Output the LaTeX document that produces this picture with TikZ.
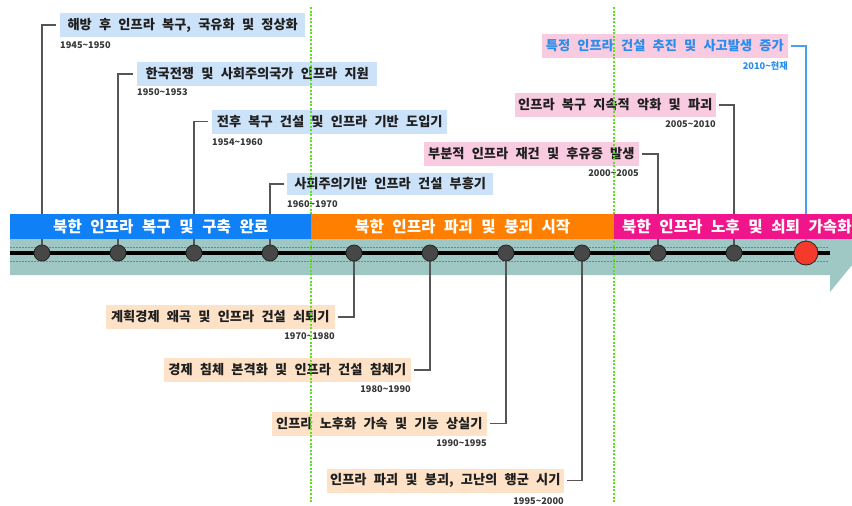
\documentclass[tikz,border=0pt]{standalone}
\usepackage{fontspec}
\newfontfamily\kr[WordSpace=2.4]{Noto Sans CJK KR}
\definecolor{tealband}{HTML}{9FC8C5}
\definecolor{lblue}{HTML}{CCE2F8}
\definecolor{lpink}{HTML}{F9CBE0}
\definecolor{lpeach}{HTML}{FDE2C8}
\definecolor{bblue}{HTML}{0F80F5}
\definecolor{borange}{HTML}{FF8000}
\definecolor{bpink}{HTML}{F0158A}
\definecolor{leadgrey}{HTML}{555555}
\definecolor{leadblue}{HTML}{4AA0F0}
\definecolor{txtblue}{HTML}{2A8CEB}
\definecolor{greendot}{HTML}{5EE01E}
\definecolor{dotfill}{HTML}{474747}
\definecolor{redfill}{HTML}{F43A2A}
\begin{document}
\begin{tikzpicture}[x=1pt,y=-1pt,
  lab/.style={minimum height=24pt, inner sep=0pt, text=black!88,
    font=\kr\bfseries\fontsize{13.2}{15}\selectfont},
  yr/.style={inner sep=0pt, text=black!78, font=\kr\bfseries\fontsize{9.2}{10}\selectfont},
  lead/.style={draw=leadgrey, line width=1.4pt},
  leadb/.style={draw=leadblue, line width=1.2pt},
  band/.style={minimum height=25pt, inner sep=0pt, text=white,
    font=\kr\bfseries\fontsize{15.6}{17}\selectfont},
  dotnode/.style={circle, fill=dotfill, draw=black!85, line width=0.8pt, minimum size=16pt, inner sep=0pt},
  dashln/.style={draw=black!50, line width=1pt, dash pattern=on 2pt off 1pt},
  greenln/.style={draw=greendot, line width=2.2pt, dash pattern=on 2pt off 1.6pt}
]
\useasboundingbox (0,0) rectangle (852,506);
\clip (0,0) rectangle (852,506);
\fill[white] (0,0) rectangle (852,506);

% arrow body
\fill[tealband] (10,214) -- (852,214) -- (852,265) -- (830,292) -- (830,275) -- (10,275) -- cycle;
\draw[dashln] (10,247) -- (828,247);
\draw[dashln] (10,261) -- (828,261);

% milestone positions
\coordinate (p1) at (42,253);
\coordinate (p2) at (118,253);
\coordinate (p3) at (194,253);
\coordinate (p4) at (270,253);
\coordinate (p5) at (354,253);
\coordinate (p6) at (430,253);
\coordinate (p7) at (506,253);
\coordinate (p8) at (582,253);
\coordinate (p9) at (658,253);
\coordinate (p10) at (734,253);
\coordinate (p11) at (806,253);

% labels top-left (blue)
\node[lab, fill=lblue, anchor=west, minimum width=245pt] (l1) at (60,25) {해방 후 인프라 복구, 국유화 및 정상화};
\node[lab, fill=lblue, anchor=west, minimum width=240pt] (l2) at (137,74) {한국전쟁 및 사회주의국가 인프라 지원};
\node[lab, fill=lblue, anchor=west, minimum width=235pt] (l3) at (212,121.5) {전후 복구 건설 및 인프라 기반 도입기};
\node[lab, fill=lblue, anchor=west, minimum width=206pt, minimum height=22pt] (l4) at (287,184) {사회주의기반 인프라 건설 부흥기};
% labels top-right (pink)
\node[lab, fill=lpink, anchor=east, minimum width=246pt, text=txtblue] (l5) at (788,46) {특정 인프라 건설 추진 및 사고발생 증가};
\node[lab, fill=lpink, anchor=east, minimum width=201pt] (l6) at (716,105) {인프라 복구 지속적 악화 및 파괴};
\node[lab, fill=lpink, anchor=east, minimum width=215pt] (l7) at (639,154) {부분적 인프라 재건 및 후유증 발생};
% labels bottom (peach)
\node[lab, fill=lpeach, anchor=east, minimum width=229pt] (l8) at (335,317) {계획경제 왜곡 및 인프라 건설 쇠퇴기};
\node[lab, fill=lpeach, anchor=east, minimum width=247pt] (l9) at (411,370) {경제 침체 본격화 및 인프라 건설 침체기};
\node[lab, fill=lpeach, anchor=east, minimum width=215pt] (l10) at (487,423.5) {인프라 노후화 가속 및 기능 상실기};
\node[lab, fill=lpeach, anchor=east, minimum width=237pt] (l11) at (564,480.5) {인프라 파괴 및 붕괴, 고난의 행군 시기};

% years
\node[yr, anchor=west] (y1) at ([yshift=-8pt]l1.south west) {1945\textasciitilde{}1950};
\node[yr, anchor=west] (y2) at ([yshift=-6pt]l2.south west) {1950\textasciitilde{}1953};
\node[yr, anchor=west] (y3) at ([yshift=-8.5pt]l3.south west) {1954\textasciitilde{}1960};
\node[yr, anchor=west] (y4) at ([yshift=-9pt]l4.south west) {1960\textasciitilde{}1970};
\node[yr, anchor=east, text=txtblue] (y5) at ([yshift=-8pt]l5.south east) {2010\textasciitilde{}현재};
\node[yr, anchor=east] (y6) at ([yshift=-7pt]l6.south east) {2005\textasciitilde{}2010};
\node[yr, anchor=east] (y7) at ([yshift=-7pt]l7.south east) {2000\textasciitilde{}2005};
\node[yr, anchor=east] (y8) at ([yshift=-7pt]l8.south east) {1970\textasciitilde{}1980};
\node[yr, anchor=east] (y9) at ([yshift=-7pt]l9.south east) {1980\textasciitilde{}1990};
\node[yr, anchor=east] (y10) at ([yshift=-7pt]l10.south east) {1990\textasciitilde{}1995};
\node[yr, anchor=east] (y11) at ([yshift=-8pt]l11.south east) {1995\textasciitilde{}2000};

% leaders
\draw[lead] (p1) |- ([xshift=-4pt]l1.west);
\draw[lead] (p2) |- ([xshift=-4pt]l2.west);
\draw[lead] (p3) |- ([xshift=-4pt]l3.west);
\draw[lead] (p4) |- ([xshift=-3pt]l4.west);
\draw[lead] (p5) |- ([xshift=3pt]l8.east);
\draw[lead] (p6) |- ([xshift=3pt]l9.east);
\draw[lead] (p7) |- ([xshift=3pt]l10.east);
\draw[lead] (p8) |- ([xshift=3pt]l11.east);
\draw[lead] (p9) |- ([xshift=3pt]l7.east);
\draw[lead] (p10) |- ([xshift=3pt]l6.east);
\draw[leadb] (p11) |- ([xshift=3pt]l5.east);

% period dividers
\draw[greenln] (311,7) -- (311,503);
\draw[greenln] (614,7) -- (614,503);

% period bands
\node[band, fill=bblue, anchor=west, minimum width=301pt] (b1) at (10,226.5) {북한 인프라 복구 및 구축 완료};
\node[band, fill=borange, anchor=west, minimum width=303pt] (b2) at (311,226.5) {북한 인프라 파괴 및 붕괴 시작};
\node[band, fill=bpink, anchor=west, minimum width=238pt] (b3) at (614,226.5) {};
\node[band, anchor=west] (b3t) at (622,226.5) {북한 인프라 노후 및 쇠퇴 가속화};

% timeline
\draw[line width=4pt] (10,253) -- (830,253);
\foreach \i in {1,...,10} { \node[dotnode] (c\i) at (p\i) {}; }
\node[dotnode, fill=redfill, minimum size=24pt] (c11) at (p11) {};
\end{tikzpicture}
\end{document}
